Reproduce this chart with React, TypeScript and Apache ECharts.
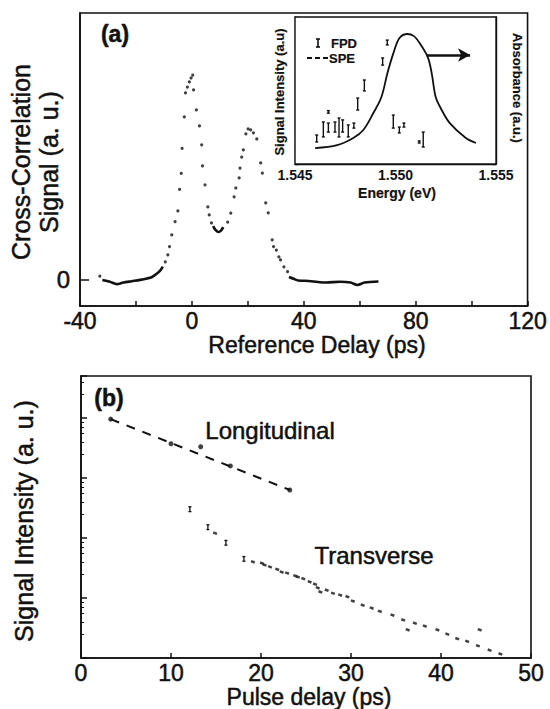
import React, { useEffect, useRef } from 'react';
import * as echarts from 'echarts';

// ---------- Panel (a): cross-correlation ----------
const refDelayLabels = [-40, 0, 40, 80, 120];
const dotDelay = [-9.5, -8.6, -8.0, -7.2, -6.0, -5.0, -4.4, -3.8, -3.5, -2.7, -2.3, -1.6, -0.9, -0.3, 0.3, 0.6, 1.6, 2.7, 3.5, 3.8, 4.7, 5.7, 6.2, 7.0, 12.8, 13.9, 15.1, 15.7, 16.9, 17.2, 17.8, 18.4, 19.3, 20.1, 21.0, 22.0, 23.2, 24.6, 25.2, 26.4, 27.3, 28.7, 29.2, 30.2, 31.1, 31.7, 32.9, 34.2];
const dotSignal = [0.066, 0.092, 0.123, 0.167, 0.217, 0.257, 0.338, 0.398, 0.492, 0.61, 0.70, 0.722, 0.741, 0.756, 0.767, 0.711, 0.636, 0.576, 0.505, 0.426, 0.355, 0.272, 0.242, 0.212, 0.215, 0.249, 0.31, 0.343, 0.381, 0.418, 0.459, 0.486, 0.546, 0.565, 0.561, 0.55, 0.527, 0.437, 0.399, 0.287, 0.25, 0.148, 0.123, 0.11, 0.084, 0.073, 0.047, 0.029];
const leftBaseDelay = [-32.0, -29.3, -26.8, -24.5, -21.5, -18.5, -16.1, -14.4, -12.7, -11.2, -10.4];
const leftBaseSignal = [-0.002, -0.009, -0.018, -0.012, -0.007, -0.002, 0.003, 0.008, 0.02, 0.035, 0.048];
const leftStartDelay = [-32.9];
const leftStartSignal = [0.012];
const valleyDelay = [7.6, 8.5, 9.5, 10.4, 11.2];
const valleySignal = [0.2, 0.185, 0.178, 0.183, 0.196];
const rightBaseDelay = [34.7, 36.4, 38.0, 41.8, 45.0, 48.0, 53.0, 56.7, 59.2, 61.7, 66.7];
const rightBaseSignal = [0.009, 0.002, -0.004, -0.006, -0.01, -0.012, -0.009, -0.012, -0.021, -0.012, -0.008];

// ---------- Inset ----------
const insetEnergyLabels = [1.545, 1.55, 1.555];
const absEnergy = [1.5460, 1.5471, 1.5479, 1.5484, 1.5489, 1.5493, 1.5496, 1.5499, 1.5502, 1.5506, 1.5509, 1.5512, 1.5516, 1.5518, 1.5520, 1.5523, 1.5527, 1.5535, 1.5540];
const absValue = [0.76, 0.9, 1.24, 1.62, 2.43, 3.19, 4.33, 5.29, 6.0, 6.19, 6.1, 5.76, 5.1, 4.33, 3.19, 2.57, 1.95, 1.24, 1.0];
const fpdEnergy = [1.54608, 1.54641, 1.54666, 1.54666, 1.54699, 1.54719, 1.54737, 1.54765, 1.54793, 1.54812, 1.54845, 1.54936, 1.54959, 1.54989, 1.55019, 1.55042, 1.55118, 1.55138];
const fpdLow = [1.05, 1.29, 1.52, 2.42, 1.52, 1.29, 1.52, 1.29, 1.71, 2.57, 3.48, 4.71, 5.67, 1.71, 1.48, 1.76, 1.0, 0.81];
const fpdHigh = [1.38, 2.0, 1.95, 2.54, 2.0, 2.19, 2.1, 1.86, 1.95, 3.14, 4.0, 5.05, 5.9, 2.33, 1.76, 1.95, 1.1, 1.52];
const arrowEnergy = [1.55155, 1.55371];
const arrowLevel = 5.19;

// ---------- Panel (b) ----------
const pulseDelayLabels = [0, 10, 20, 30, 40, 50];
const longDelay = [3.3, 10.0, 13.3, 16.6, 23.2];
const longSignal = [9550, 3715, 3310, 1585, 631];
const longFitDelay = [3.3, 23.2];
const longFitSignal = [9550, 631];
const transBarDelay = [12.1, 14.1, 16.1, 18.1];
const transBarLow = [275, 138, 76, 41];
const transBarHigh = [331, 166, 91, 49];
const transDelay = [14.9, 19.1, 20.1, 20.4, 21.0, 21.8, 22.3, 22.9, 23.8, 24.1, 24.7, 25.4, 26.0, 26.3, 26.6, 27.3, 28.0, 28.8, 29.6, 30.2, 31.3, 32.3, 33.2, 34.6, 35.8, 36.3, 37.1, 38.2, 39.6, 40.7, 41.8, 42.9, 44.1, 44.3, 45.4, 46.6];
const transSignal = [120, 40, 38, 35.5, 33, 30, 27, 26, 23.4, 22.4, 21, 18.6, 17, 14.8, 12.6, 13.5, 12, 11.2, 10.5, 8.9, 7.6, 6.8, 6.0, 5.2, 4.3, 2.95, 3.8, 3.4, 2.95, 2.5, 2.1, 1.9, 1.6, 2.95, 1.35, 1.17];

const FF = "'Liberation Sans', Arial, Helvetica, sans-serif";
const INK = '#111';

const zip = (a: number[], b: number[]) => a.map((v, i) => [v, b[i]]);

function errorBarRender(capHalf: number, width: number) {
  return (params: any, api: any) => {
    const x = api.value(0);
    const p1 = api.coord([x, api.value(1)]);
    const p2 = api.coord([x, api.value(2)]);
    const st = { stroke: INK, lineWidth: width };
    return {
      type: 'group',
      children: [
        { type: 'line', shape: { x1: p1[0], y1: p1[1], x2: p2[0], y2: p2[1] }, style: st },
        { type: 'line', shape: { x1: p1[0] - capHalf, y1: p1[1], x2: p1[0] + capHalf, y2: p1[1] }, style: st },
        { type: 'line', shape: { x1: p2[0] - capHalf, y1: p2[1], x2: p2[0] + capHalf, y2: p2[1] }, style: st },
      ],
    };
  };
}

const txt = (text: string, x: number, y: number, size: number, extra: any = {}, rotation = 0, z = 20) => ({
  type: 'text', x, y, rotation, z,
  style: { text, fill: INK, stroke: INK, lineWidth: size > 18 ? 0.5 : 0.2, fontSize: size, fontFamily: FF, align: 'center', verticalAlign: 'middle', ...extra },
});

export default function App() {
  const ref = useRef<HTMLDivElement>(null);
  useEffect(() => {
    if (!ref.current) return;
    const chart = echarts.init(ref.current, null, { renderer: 'svg' });
    const axisLine = { show: true, onZero: false, lineStyle: { color: INK, width: 1.6 } };
    const bigLabel = { color: INK, fontSize: 23, lineHeight: 20, fontFamily: FF, textBorderColor: INK, textBorderWidth: 0.5 };
    const insetAxisLine = { show: true, onZero: false, lineStyle: { color: INK, width: 1.4 } };
    const option: any = {
      animation: false,
      backgroundColor: '#fff',
      grid: [
        { left: 80, top: 13, width: 450, height: 293, show: true, borderColor: INK, borderWidth: 1.6, backgroundColor: 'transparent' },
        { left: 295, top: 17, width: 201, height: 147, show: true, borderColor: INK, borderWidth: 1.4, backgroundColor: '#fff', z: 5 },
        { left: 81, top: 376, width: 450, height: 282, show: true, borderColor: INK, borderWidth: 1.6, backgroundColor: 'transparent' },
      ],
      xAxis: [
        {
          gridIndex: 0, type: 'value', min: -40, max: 120, interval: 20,
          axisLine, splitLine: { show: false },
          axisTick: { inside: true, length: 5, lineStyle: { color: INK, width: 1.5 } },
          axisLabel: { ...bigLabel, margin: 5, customValues: refDelayLabels, formatter: (v: number) => (v % 40 === 0 ? String(v) : '') },
        },
        {
          gridIndex: 1, type: 'value', min: 1.545, max: 1.555, interval: 0.005,
          axisLine: insetAxisLine, splitLine: { show: false },
          axisTick: { show: false },
          axisLabel: { color: INK, fontSize: 14, fontWeight: 'bold', fontFamily: FF, margin: 4, customValues: insetEnergyLabels, formatter: (v: number) => v.toFixed(3) },
        },
        {
          gridIndex: 2, type: 'value', min: 0, max: 50, interval: 10,
          axisLine, splitLine: { show: false },
          axisTick: { inside: true, length: 5, lineStyle: { color: INK, width: 1.5 } },
          axisLabel: { ...bigLabel, margin: 5, customValues: pulseDelayLabels },
        },
      ],
      yAxis: [
        {
          gridIndex: 0, type: 'value', min: -0.1, max: 1.0,
          axisLine, splitLine: { show: false },
          axisTick: { inside: true, length: 9, customValues: [0], lineStyle: { color: INK, width: 1.5 } },
          axisLabel: { ...bigLabel, fontSize: 24, margin: 10, customValues: [0], formatter: (v: number) => (v === 0 ? '0' : '') },
        },
        {
          gridIndex: 1, type: 'value', min: 0, max: 7, interval: 1,
          axisLine: insetAxisLine, splitLine: { show: false },
          axisTick: { inside: true, length: 4, lineStyle: { color: INK, width: 1.3 } },
          axisLabel: { show: false },
        },
        {
          gridIndex: 1, type: 'value', position: 'right', min: 0, max: 7, interval: 1,
          axisLine: insetAxisLine, splitLine: { show: false },
          axisTick: { inside: true, length: 4, lineStyle: { color: INK, width: 1.3 } },
          axisLabel: { show: false },
        },
        {
          gridIndex: 2, type: 'log', logBase: 10, min: 1, max: 50000,
          axisLine, splitLine: { show: false },
          axisTick: { inside: true, length: 6, lineStyle: { color: INK, width: 1.5 } },
          minorTick: { show: true, splitNumber: 6, length: 3, lineStyle: { color: INK, width: 1 } },
          axisLabel: { show: false },
        },
      ],
      series: [
        // Panel (a)
        { type: 'scatter', xAxisIndex: 0, yAxisIndex: 0, data: zip(dotDelay, dotSignal), symbolSize: 3.2, itemStyle: { color: INK } },
        { type: 'scatter', xAxisIndex: 0, yAxisIndex: 0, data: zip(leftStartDelay, leftStartSignal), symbolSize: 3.2, itemStyle: { color: INK } },
        { type: 'line', xAxisIndex: 0, yAxisIndex: 0, data: zip(leftBaseDelay, leftBaseSignal), showSymbol: false, smooth: 0.3, lineStyle: { color: INK, width: 2.6 } },
        { type: 'line', xAxisIndex: 0, yAxisIndex: 0, data: zip(valleyDelay, valleySignal), showSymbol: false, smooth: 0.4, lineStyle: { color: INK, width: 2.6 } },
        { type: 'line', xAxisIndex: 0, yAxisIndex: 0, data: zip(rightBaseDelay, rightBaseSignal), showSymbol: false, smooth: 0.3, lineStyle: { color: INK, width: 2.6 } },
        // Inset
        {
          type: 'line', xAxisIndex: 1, yAxisIndex: 1, data: zip(absEnergy, absValue), showSymbol: false, smooth: 0.35, z: 10,
          lineStyle: { color: INK, width: 1.8 },
          markLine: {
            silent: true, symbol: ['none', 'arrow'], symbolSize: [10, 12],
            label: { show: false },
            lineStyle: { color: INK, width: 2.6, type: 'solid' },
            data: [[{ coord: [arrowEnergy[0], arrowLevel] }, { coord: [arrowEnergy[1], arrowLevel] }]],
          },
        },
        {
          type: 'custom', xAxisIndex: 1, yAxisIndex: 1, z: 10,
          data: fpdEnergy.map((e, i) => [e, fpdLow[i], fpdHigh[i]]),
          encode: { x: 0, y: [1, 2] },
          renderItem: errorBarRender(1.5, 1.4),
        },
        // Panel (b)
        { type: 'line', xAxisIndex: 2, yAxisIndex: 3, data: zip(longFitDelay, longFitSignal), showSymbol: false, lineStyle: { color: INK, width: 2, type: [9, 8] } },
        { type: 'scatter', xAxisIndex: 2, yAxisIndex: 3, data: zip(longDelay, longSignal), symbolSize: 5, itemStyle: { color: INK } },
        {
          type: 'custom', xAxisIndex: 2, yAxisIndex: 3,
          data: transBarDelay.map((d, i) => [d, transBarLow[i], transBarHigh[i]]),
          encode: { x: 0, y: [1, 2] },
          renderItem: errorBarRender(1.5, 1.3),
        },
        { type: 'scatter', xAxisIndex: 2, yAxisIndex: 3, data: zip(transDelay, transSignal), symbol: 'rect', symbolSize: [4, 2.5], symbolRotate: -20, itemStyle: { color: INK } },
      ],
      graphic: [
        txt('(a)', 115, 34, 23, { fontWeight: 'bold' }),
        txt('(b)', 109, 398, 23, { fontWeight: 'bold' }),
        txt('Cross-Correlation\nSignal (a. u.)', 35, 162, 25, { lineHeight: 28 }, Math.PI / 2),
        txt('Reference Delay (ps)', 317, 345, 23),
        txt('Signal Intensity (a. u.)', 24, 521, 25, {}, Math.PI / 2),
        txt('Pulse delay (ps)', 309, 697, 23),
        txt('Longitudinal', 270, 430, 24),
        txt('Transverse', 374, 555, 24),
        // inset texts
        txt('Energy (eV)', 397, 193, 14, { fontWeight: 'bold' }),
        txt('Signal Intensity (a.u)', 279, 92, 13, { fontWeight: 'bold' }, Math.PI / 2),
        txt('Absorbance (a.u.)', 517, 88, 13, { fontWeight: 'bold' }, -Math.PI / 2),
        txt('FPD', 331, 43, 13, { fontWeight: 'bold', align: 'left' }),
        txt('SPE', 329, 58, 13, { fontWeight: 'bold', align: 'left' }),
        { type: 'line', z: 20, shape: { x1: 318, y1: 39, x2: 318, y2: 47 }, style: { stroke: INK, lineWidth: 1.6 } },
        { type: 'line', z: 20, shape: { x1: 316, y1: 39, x2: 320, y2: 39 }, style: { stroke: INK, lineWidth: 1.6 } },
        { type: 'line', z: 20, shape: { x1: 316, y1: 47, x2: 320, y2: 47 }, style: { stroke: INK, lineWidth: 1.6 } },
        { type: 'line', z: 20, shape: { x1: 307, y1: 58, x2: 328, y2: 58 }, style: { stroke: INK, lineWidth: 1.8, lineDash: [5, 3] } },
      ],
    };
    chart.setOption(option);
    return () => chart.dispose();
  }, []);
  return <div ref={ref} style={{ position: 'absolute', left: 0, top: 0, width: 550, height: 709 }} />;
}
